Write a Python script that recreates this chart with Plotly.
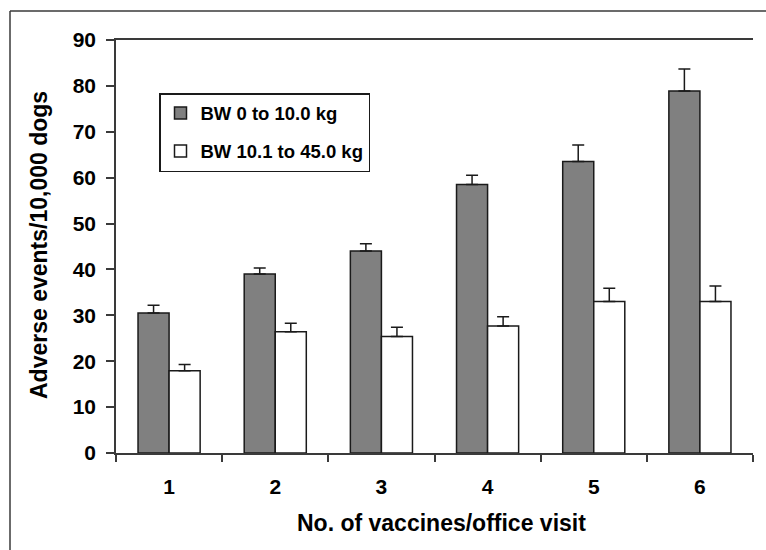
import plotly.graph_objects as go

categories = ["1", "2", "3", "4", "5", "6"]
light_dogs = [30.5, 39.0, 44.0, 58.5, 63.5, 78.9]
light_err = [1.7, 1.3, 1.6, 2.0, 3.6, 4.8]
heavy_dogs = [17.9, 26.4, 25.4, 27.7, 33.0, 33.0]
heavy_err = [1.4, 1.9, 2.0, 2.0, 2.9, 3.4]
series_names = ["BW 0 to 10.0 kg", "BW 10.1 to 45.0 kg"]
y_ticks = [0, 10, 20, 30, 40, 50, 60, 70, 80, 90]
x_title = "No. of vaccines/office visit"
y_title = "Adverse events/10,000 dogs"

FONT = "Liberation Sans, Arial, sans-serif"
AX = "#3a3a3a"

fig = go.Figure()
fig.add_trace(go.Bar(
    x=categories, y=light_dogs, name=series_names[0], legendgroup="a",
    marker=dict(color="#808080", line=dict(color="#1a1a1a", width=1.5)),
    error_y=dict(type="data", array=light_err, arrayminus=[0] * 6, symmetric=False,
                 color="#1a1a1a", thickness=1.5, width=6),
))
fig.add_trace(go.Bar(
    x=categories, y=heavy_dogs, name=series_names[1], legendgroup="b",
    marker=dict(color="#ffffff", line=dict(color="#1a1a1a", width=1.5)),
    error_y=dict(type="data", array=heavy_err, arrayminus=[0] * 6, symmetric=False,
                 color="#1a1a1a", thickness=1.5, width=6),
))

W, H = 766, 550
L, R, T, B = 116, 13, 40, 97
pw, ph = W - L - R, H - T - B


def px(x):
    return (x - L) / pw


def py(y):
    return (H - B - y) / ph


fig.update_layout(
    width=W, height=H,
    margin=dict(l=L, r=R, t=T, b=B),
    paper_bgcolor="white", plot_bgcolor="white",
    barmode="group", bargap=0.415, bargroupgap=0,
    font=dict(family=FONT, color="black"),
    showlegend=True,
    legend=dict(
        x=px(159), y=py(93), xanchor="left", yanchor="top",
        bgcolor="white", bordercolor="#1a1a1a", borderwidth=1.5,
        font=dict(family=FONT, size=18.5, color="black", weight="bold"),
        traceorder="grouped", tracegroupgap=11,
    ),
    xaxis=dict(
        type="category", range=[-0.5, 5.5],
        showline=True, linecolor=AX, linewidth=1.5, mirror=True,
        ticks="outside", ticklen=7, tickwidth=1.5, tickcolor=AX,
        tickson="boundaries", showgrid=False,
        tickfont=dict(family=FONT, size=21, color="black", weight="bold"),
        ticklabelstandoff=14,
    ),
    yaxis=dict(
        range=[0, 90], tickvals=y_ticks,
        showline=True, linecolor=AX, linewidth=1.5,
        ticks="outside", ticklen=8, tickwidth=1.5, tickcolor=AX,
        showgrid=False, zeroline=False,
        tickfont=dict(family=FONT, size=21, color="black", weight="bold"),
        ticklabelstandoff=6,
    ),
    annotations=[
        dict(text=x_title, xref="paper", yref="paper", x=px(441.5), y=py(523),
             xanchor="center", yanchor="middle", showarrow=False,
             font=dict(family=FONT, size=23, color="black", weight="bold")),
        dict(text=y_title, xref="paper", yref="paper", x=px(38.5), y=py(245.5),
             xanchor="center", yanchor="middle", showarrow=False, textangle=-90,
             font=dict(family=FONT, size=23, color="black", weight="bold")),
    ],
    shapes=[
        dict(type="line", xref="paper", yref="paper", x0=px(10), x1=px(766), y0=py(11), y1=py(11),
             line=dict(color=AX, width=1.5)),
        dict(type="line", xref="paper", yref="paper", x0=px(10), x1=px(10), y0=py(11), y1=py(550),
             line=dict(color=AX, width=1.5)),
    ],
)

fig.write_html("out.html")
